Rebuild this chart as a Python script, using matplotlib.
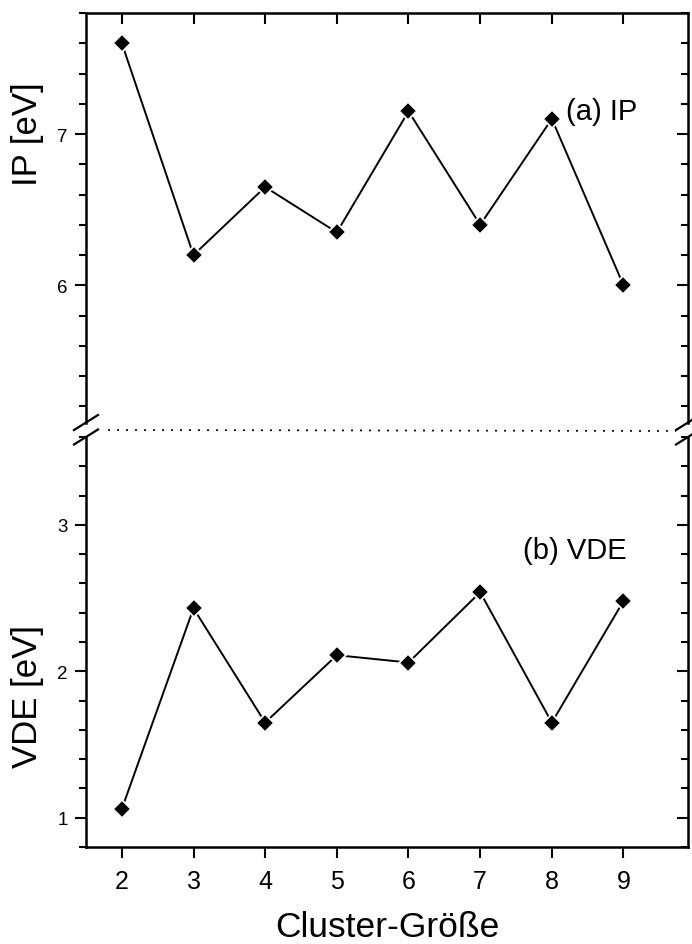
import numpy as np
import matplotlib
matplotlib.use('Agg')
import matplotlib.pyplot as plt
from matplotlib.ticker import MultipleLocator
from matplotlib.lines import Line2D

plt.rcParams['font.family'] = ['Liberation Sans', 'DejaVu Sans']

# data
cluster_size = [2, 3, 4, 5, 6, 7, 8, 9]
ip = [7.60, 6.20, 6.65, 6.35, 7.15, 6.40, 7.10, 6.00]
vde = [1.06, 2.43, 1.65, 2.11, 2.06, 2.54, 1.65, 2.48]

W, H = 692, 945


def fx(px):
    return px / W


def fy(py):
    return 1 - py / H


fig = plt.figure(figsize=(W / 100, H / 100), dpi=100)

left, right = 86, 688
ax_top = fig.add_axes([fx(left), fy(424), fx(right) - fx(left), fy(14) - fy(424)])
ax_bot = fig.add_axes([fx(left), fy(848), fx(right) - fx(left), fy(438) - fy(848)])

line_kw = dict(color='black', lw=1.4, marker='D', ms=9.5, mfc='black',
               mec='white', mew=1.3)

ax_top.plot(cluster_size, ip, **line_kw)
ax_bot.plot(cluster_size, vde, **line_kw)

for ax in (ax_top, ax_bot):
    ax.set_xlim(1.5, 9.9)
    ax.xaxis.set_major_locator(MultipleLocator(1))
    ax.yaxis.set_major_locator(MultipleLocator(1))
    ax.yaxis.set_minor_locator(MultipleLocator(0.2))
    for s in ax.spines.values():
        s.set_linewidth(1.8)
    ax.tick_params(axis='y', which='major', direction='out', length=8,
                   width=1.5, labelsize=13.5, pad=5, right=False)
    ax.tick_params(axis='y', which='minor', direction='out', length=5,
                   width=1.5, right=False)
    # right side ticks point inward
    axr = ax.twinx()
    axr.yaxis.set_major_locator(MultipleLocator(1))
    axr.yaxis.set_minor_locator(MultipleLocator(0.2))
    axr.tick_params(axis='y', which='major', direction='in', length=8,
                    width=1.5, labelright=False)
    axr.tick_params(axis='y', which='minor', direction='in', length=5,
                    width=1.5)
    for s in axr.spines.values():
        s.set_visible(False)
    ax._twin = axr

ax_top.set_ylim(5.09, 7.8)
ax_top._twin.set_ylim(5.09, 7.8)
ax_bot.set_ylim(0.8, 3.6)
ax_bot._twin.set_ylim(0.8, 3.6)

ax_top.spines['bottom'].set_visible(False)
ax_top.tick_params(axis='x', which='both', bottom=False, labelbottom=False,
                   top=True, direction='in', length=8, width=1.5)
ax_bot.spines['top'].set_visible(False)
ax_bot.tick_params(axis='x', which='both', top=False, direction='out',
                   length=8, width=1.5, labelsize=18, pad=8)

ax_top.text(8.2, 7.15, '(a) IP', fontsize=21, ha='left', va='center')
ax_bot.text(7.6, 2.83, '(b) VDE', fontsize=21, ha='left', va='center')

fig.text(fx(27), fy(134), 'IP [eV]', rotation=90, fontsize=25,
         ha='center', va='center')
fig.text(fx(27), fy(696), 'VDE [eV]', rotation=90, fontsize=25,
         ha='center', va='center')
fig.text(fx(387), fy(937), 'Cluster-Größe', fontsize=25.5,
         ha='center', va='baseline')

# axis break marks and dotted separator
for xc in (left, right):
    for yc in (423.5, 438):
        fig.add_artist(Line2D([fx(xc - 12), fx(xc + 12)],
                              [fy(yc + 7.5), fy(yc - 7.5)],
                              color='black', lw=1.6,
                              transform=fig.transFigure, clip_on=False))
fig.add_artist(Line2D([fx(108), fx(676)], [fy(431), fy(432)], color='black',
                      lw=1.2, linestyle=(0, (1.2, 4.2)),
                      transform=fig.transFigure))

fig.savefig('out.png', dpi=100)
